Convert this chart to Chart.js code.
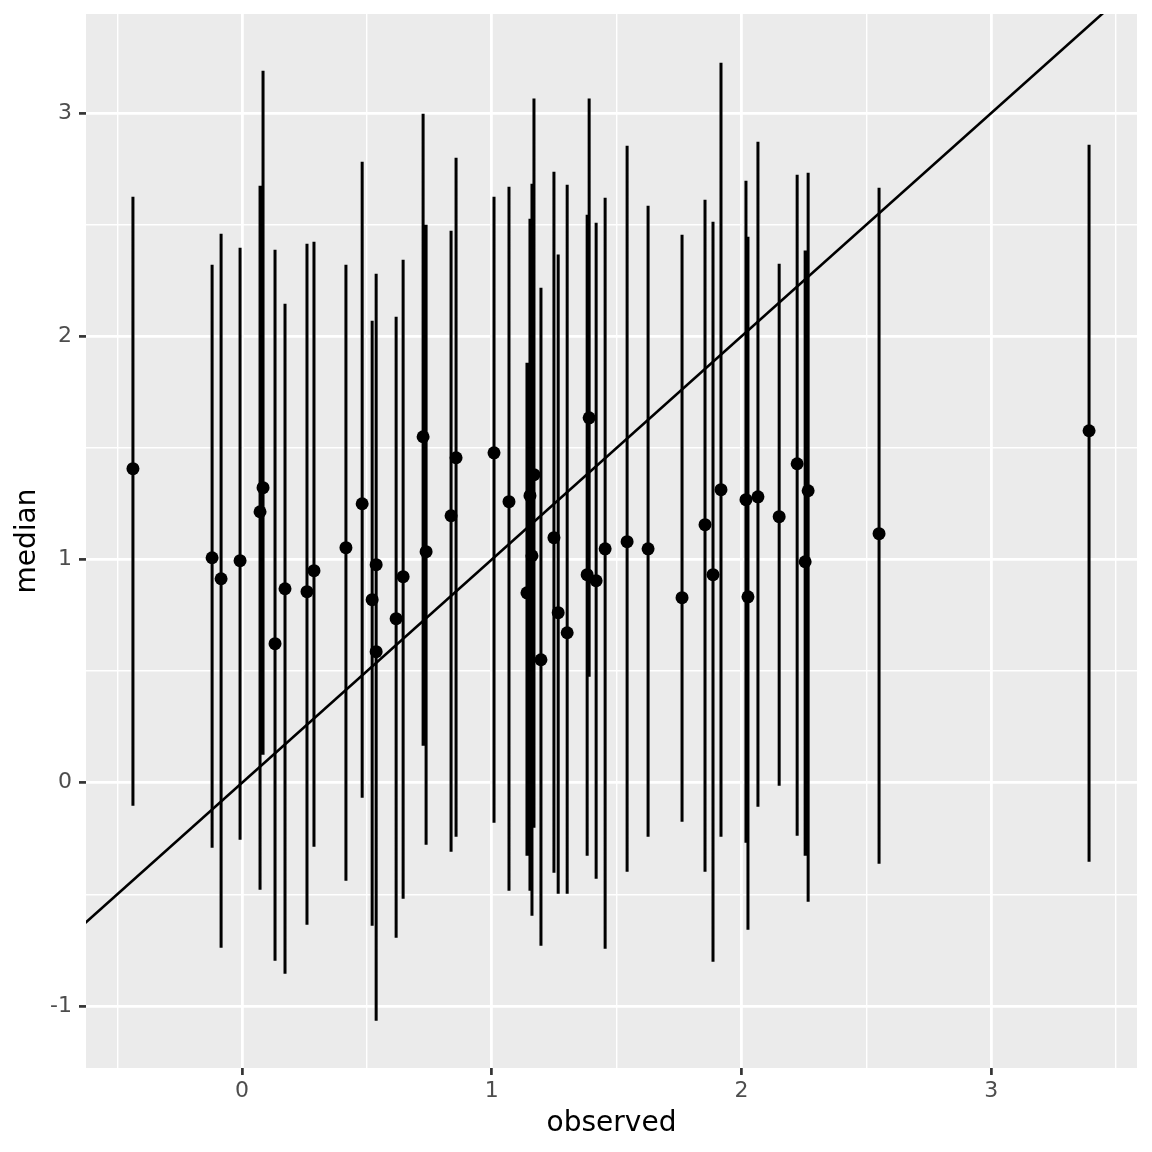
<!DOCTYPE html>
<html lang="en">
<head>
  <meta charset="UTF-8">
  <title>median vs observed</title>
  <style>
    body {
      margin: 0;
      padding: 0;
      background-color: #ffffff;
    }
    #wrap {
      width: 1152px;
      height: 1152px;
    }
  </style>
</head>
<body>

  <div id="wrap"><canvas id="medianChart"></canvas></div>

  <script src="https://cdn.jsdelivr.net/npm/chart.js"></script>
  <script>
    // values
    const observed = [-0.437, -0.120, -0.084, -0.008, 0.072, 0.084, 0.132, 0.172, 0.260, 0.288,
                      0.416, 0.481, 0.521, 0.537, 0.537, 0.617, 0.645, 0.725, 0.737, 0.837,
                      0.857, 1.009, 1.069, 1.141, 1.153, 1.161, 1.169, 1.197, 1.249, 1.266,
                      1.302, 1.382, 1.390, 1.418, 1.454, 1.542, 1.626, 1.762, 1.854, 1.886,
                      1.918, 2.018, 2.026, 2.066, 2.151, 2.223, 2.255, 2.267, 2.551, 3.392];
    const median   = [1.407, 1.008, 0.914, 0.995, 1.214, 1.322, 0.623, 0.869, 0.856, 0.950,
                      1.053, 1.250, 0.820, 0.977, 0.587, 0.735, 0.923, 1.550, 1.035, 1.196,
                      1.456, 1.478, 1.259, 0.851, 1.286, 1.017, 1.380, 0.551, 1.098, 0.762,
                      0.672, 0.932, 1.635, 0.905, 1.048, 1.080, 1.048, 0.829, 1.156, 0.932,
                      1.313, 1.268, 0.833, 1.281, 1.192, 1.429, 0.990, 1.308, 1.116, 1.577];
    const lower    = [-0.103, -0.291, -0.739, -0.255, -0.479, 0.125, -0.797, -0.856, -0.636, -0.287,
                      -0.439, -0.067, -0.641, -0.372, -1.066, -0.694, -0.520, 0.166, -0.278, -0.309,
                      -0.242, -0.179, -0.484, -0.327, -0.484, -0.596, -0.202, -0.730, -0.403, -0.497,
                      -0.497, -0.327, 0.475, -0.430, -0.744, -0.399, -0.242, -0.175, -0.399, -0.802,
                      -0.242, -0.269, -0.659, -0.108, -0.013, -0.237, -0.327, -0.533, -0.363, -0.354];
    const upper    = [2.625, 2.321, 2.460, 2.397, 2.675, 3.190, 2.388, 2.146, 2.415, 2.424,
                      2.321, 2.782, 2.070, 2.280, 1.989, 2.088, 2.343, 2.997, 2.500, 2.473,
                      2.800, 2.625, 2.670, 1.882, 2.527, 2.684, 3.065, 2.218, 2.737, 2.366,
                      2.679, 2.545, 3.065, 2.509, 2.621, 2.854, 2.585, 2.455, 2.612, 2.513,
                      3.226, 2.697, 2.446, 2.872, 2.325, 2.724, 2.384, 2.733, 2.666, 2.858];

    // y = x reference line ends (clipped to the panel)
    const identityEnds = [-1, 4];

    // axes
    const xRange = [-0.625, 3.584];
    const yRange = [-1.278, 3.444];
    const xBreaks = [0, 1, 2, 3];
    const xMinorBreaks = [-0.5, 0.5, 1.5, 2.5, 3.5];
    const yBreaks = [-1, 0, 1, 2, 3];
    const yMinorBreaks = [-0.5, 0.5, 1.5, 2.5];

    const FONT = "'DejaVu Sans', 'Liberation Sans', sans-serif";

    // segments lo -> hi, broken by a null after each one
    const rangeData = [];
    observed.forEach((x, i) => {
      rangeData.push({ x: x, y: lower[i] });
      rangeData.push({ x: x, y: upper[i] });
      rangeData.push({ x: x, y: null });
    });
    const pointData = observed.map((x, i) => ({ x: x, y: median[i] }));
    const lineData = identityEnds.map(v => ({ x: v, y: v }));

    // grey panel like ggplot
    const panelBackground = {
      id: 'panelBackground',
      beforeDraw(chart) {
        const { ctx, chartArea } = chart;
        ctx.save();
        ctx.fillStyle = '#EBEBEB';
        ctx.fillRect(chartArea.left, chartArea.top,
                     chartArea.right - chartArea.left, chartArea.bottom - chartArea.top);
        ctx.restore();
      }
    };

    function axis(range, breaks, minor, titleText, isX) {
      const all = breaks.concat(minor).sort((a, b) => a - b);
      return {
        type: 'linear',
        min: range[0],
        max: range[1],
        afterBuildTicks: scale => { scale.ticks = all.map(v => ({ value: v })); },
        afterFit: scale => {
          // fixed axis sizes, no extra room for edge labels
          if (isX) scale.height = 84; else scale.width = 86;
          scale.paddingTop = 0;
          scale.paddingBottom = 0;
          scale.paddingLeft = 0;
          scale.paddingRight = 0;
        },
        border: { display: false },
        grid: {
          color: '#FFFFFF',
          lineWidth: c => breaks.includes(c.tick.value) ? 2.8 : 1.4,
          tickColor: c => breaks.includes(c.tick.value) ? '#333333' : 'rgba(0,0,0,0)',
          tickLength: 7,
          tickWidth: 2.7
        },
        ticks: {
          autoSkip: false,
          maxRotation: 0,
          color: '#4D4D4D',
          padding: isX ? 3 : 7,
          font: { family: FONT, size: 22 },
          callback: v => breaks.includes(v) ? String(v) : ''
        },
        title: {
          display: true,
          text: titleText,
          color: '#000000',
          font: { family: FONT, size: 28 },
          padding: isX ? { top: 0, bottom: 11 } : { top: 11, bottom: 0 }
        }
      };
    }

    const ctx = document.getElementById('medianChart').getContext('2d');
    new Chart(ctx, {
      type: 'scatter',
      data: {
        datasets: [
          {
            label: 'y = x',
            data: lineData,
            showLine: true,
            borderColor: '#000000',
            borderWidth: 2.6,
            pointRadius: 0,
            order: 0
          },
          {
            label: 'median',
            data: pointData,
            backgroundColor: '#000000',
            borderColor: '#000000',
            borderWidth: 0,
            pointRadius: 6.5,
            order: 1
          },
          {
            label: 'range',
            data: rangeData,
            showLine: true,
            spanGaps: false,
            borderColor: '#000000',
            borderWidth: 3,
            borderCapStyle: 'butt',
            pointRadius: 0,
            order: 2
          }
        ]
      },
      options: {
        responsive: true,
        maintainAspectRatio: false,
        animation: false,
        events: [],
        layout: { padding: { top: 14, right: 15, left: 0, bottom: 0 } },
        plugins: {
          legend: { display: false },
          tooltip: { enabled: false }
        },
        scales: {
          x: axis(xRange, xBreaks, xMinorBreaks, 'observed', true),
          y: axis(yRange, yBreaks, yMinorBreaks, 'median', false)
        }
      },
      plugins: [panelBackground]
    });
  </script>

</body>
</html>
